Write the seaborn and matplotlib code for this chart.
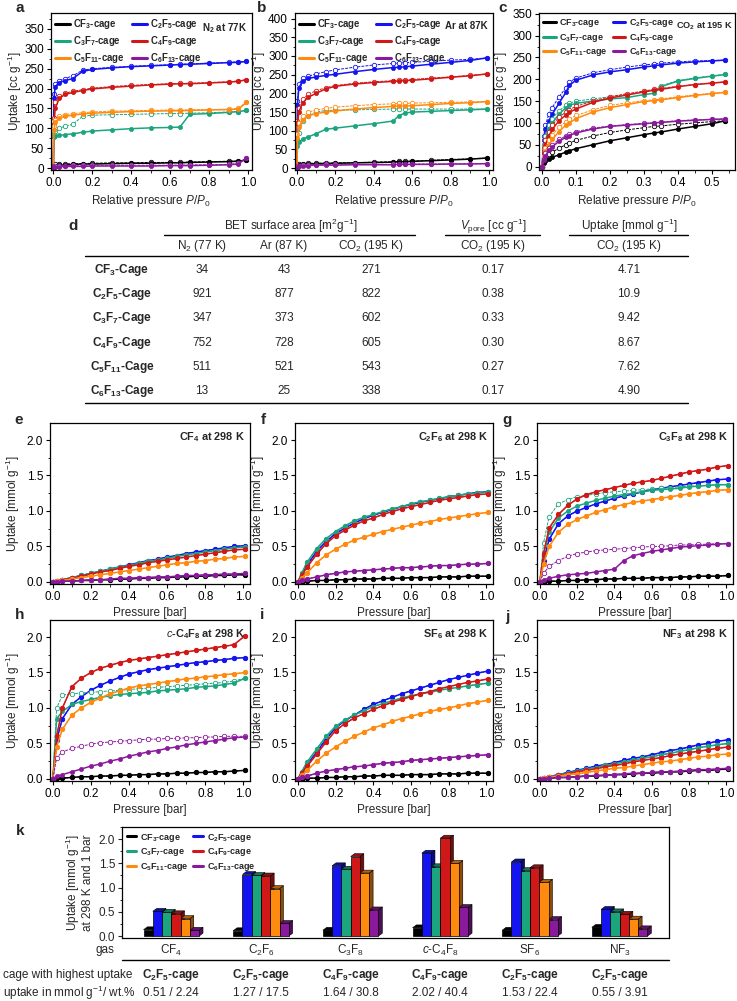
import numpy as np
import pandas as pd
import matplotlib
matplotlib.use('Agg')
import matplotlib.pyplot as plt
import seaborn as sns
from matplotlib.ticker import AutoMinorLocator, MultipleLocator, FormatStrFormatter
from matplotlib.patches import Polygon
from matplotlib.lines import Line2D
from matplotlib.colors import to_rgb
import matplotlib.transforms as mtransforms

# ---------------- data ----------------
cages = ['CF3', 'C2F5', 'C3F7', 'C4F9', 'C5F11', 'C6F13']
cage_labels = [r'$\mathbf{CF_3}$-cage', r'$\mathbf{C_2F_5}$-cage', r'$\mathbf{C_3F_7}$-cage',
               r'$\mathbf{C_4F_9}$-cage', r'$\mathbf{C_5F_{11}}$-cage', r'$\mathbf{C_6F_{13}}$-cage']
cage_colors = ['#000000', '#1414F0', '#1BA57E', '#D01818', '#FF8A10', '#8A1A9C']

# a: N2 at 77 K
p_a = [0, 0.003, 0.01, 0.03, 0.06, 0.1, 0.15, 0.2, 0.3, 0.4, 0.5, 0.6, 0.65, 0.7, 0.8, 0.9, 0.95, 0.99]
a_ads = {
    'CF3':   [0, 4, 6, 7, 8, 9, 10, 10, 11, 12, 12, 13, 13, 14, 15, 16, 17, 20],
    'C2F5':  [0, 175, 205, 215, 220, 225, 243, 248, 252, 255, 257, 259, 260, 261, 263, 265, 266, 268],
    'C3F7':  [0, 78, 80, 82, 84, 86, 90, 93, 96, 99, 101, 102, 103, 135, 137, 140, 142, 145],
    'C4F9':  [0, 110, 150, 175, 185, 190, 195, 199, 203, 206, 209, 211, 212, 212, 214, 216, 218, 222],
    'C5F11': [0, 95, 115, 125, 130, 133, 136, 138, 140, 142, 143, 144, 144, 145, 146, 147, 148, 165],
    'C6F13': [0, 2, 3, 3, 4, 4, 4, 5, 5, 5, 5, 6, 6, 6, 7, 8, 10, 25],
}
a_des = {
    'CF3':   [0, 7, 9, 10, 10, 11, 11, 12, 13, 13, 14, 14, 14, 15, 16, 17, 18, 20],
    'C2F5':  [0, 185, 212, 220, 225, 232, 246, 250, 253, 256, 258, 260, 261, 262, 264, 266, 267, 268],
    'C3F7':  [0, 85, 92, 100, 105, 110, 130, 133, 134, 135, 136, 137, 137, 138, 139, 141, 142, 145],
    'C4F9':  [0, 125, 165, 180, 188, 193, 197, 201, 205, 208, 210, 212, 213, 213, 215, 217, 219, 222],
    'C5F11': [0, 105, 122, 130, 134, 137, 139, 141, 143, 144, 145, 146, 146, 146, 147, 148, 150, 165],
    'C6F13': [0, 5, 6, 6, 6, 7, 7, 7, 7, 7, 7, 7, 7, 8, 8, 9, 12, 25],
}

# b: Ar at 87 K
p_b = [0, 0.003, 0.01, 0.03, 0.06, 0.1, 0.15, 0.2, 0.3, 0.4, 0.5, 0.53, 0.56, 0.6, 0.7, 0.8, 0.9, 0.99]
b_ads = {
    'CF3':   [0, 5, 8, 10, 11, 12, 12, 13, 14, 15, 16, 17, 17, 18, 20, 22, 24, 27],
    'C2F5':  [0, 170, 215, 233, 240, 244, 248, 251, 258, 264, 269, 270, 271, 273, 278, 283, 288, 295],
    'C3F7':  [0, 60, 70, 78, 84, 92, 104, 107, 113, 119, 126, 140, 147, 150, 152, 154, 156, 158],
    'C4F9':  [0, 120, 150, 175, 190, 200, 212, 219, 225, 229, 232, 233, 234, 235, 239, 243, 247, 252],
    'C5F11': [0, 80, 110, 130, 140, 146, 150, 153, 158, 162, 165, 166, 166, 167, 170, 173, 175, 178],
    'C6F13': [0, 3, 5, 6, 7, 8, 8, 8, 9, 9, 9, 10, 10, 10, 10, 11, 11, 12],
}
b_des = {
    'CF3':   [0, 8, 11, 12, 13, 13, 14, 14, 15, 16, 17, 18, 18, 19, 21, 23, 25, 27],
    'C2F5':  [0, 180, 225, 240, 246, 252, 258, 263, 270, 276, 280, 281, 282, 283, 286, 289, 291, 295],
    'C3F7':  [0, 75, 95, 125, 140, 150, 154, 155, 156, 157, 158, 158, 158, 158, 158, 158, 158, 158],
    'C4F9':  [0, 125, 160, 185, 198, 207, 215, 221, 227, 231, 234, 235, 236, 237, 241, 244, 248, 252],
    'C5F11': [0, 90, 120, 140, 150, 155, 160, 163, 167, 170, 172, 173, 173, 174, 175, 176, 177, 178],
    'C6F13': [0, 5, 7, 8, 9, 9, 10, 10, 10, 10, 10, 11, 11, 11, 11, 11, 12, 12],
}

# c: CO2 at 195 K
p_c = [0, 0.005, 0.01, 0.02, 0.03, 0.05, 0.07, 0.08, 0.1, 0.15, 0.2, 0.25, 0.3, 0.33, 0.35, 0.4, 0.45, 0.5, 0.54]
c_ads = {
    'CF3':   [0, 8, 12, 17, 21, 27, 33, 36, 41, 50, 59, 66, 73, 77, 79, 86, 92, 98, 105],
    'C2F5':  [0, 60, 85, 105, 120, 145, 170, 186, 198, 210, 217, 222, 228, 231, 233, 237, 240, 242, 244],
    'C3F7':  [0, 40, 60, 85, 100, 120, 135, 140, 145, 150, 155, 158, 165, 168, 183, 196, 202, 207, 211],
    'C4F9':  [0, 30, 50, 70, 85, 105, 118, 124, 132, 147, 157, 164, 171, 175, 177, 183, 188, 191, 194],
    'C5F11': [0, 20, 35, 50, 62, 80, 95, 100, 110, 125, 135, 142, 149, 151, 153, 158, 163, 167, 170],
    'C6F13': [0, 15, 25, 37, 45, 58, 67, 71, 77, 86, 92, 95, 98, 100, 101, 104, 106, 108, 109],
}
c_des = {
    'CF3':   [0, 12, 20, 28, 33, 42, 50, 54, 60, 70, 78, 84, 89, 92, 93, 97, 100, 103, 105],
    'C2F5':  [0, 70, 95, 120, 135, 160, 180, 193, 203, 215, 222, 228, 233, 235, 237, 240, 242, 243, 244],
    'C3F7':  [0, 50, 70, 95, 110, 128, 140, 145, 150, 155, 160, 165, 172, 176, 185, 197, 203, 208, 211],
    'C4F9':  [0, 40, 60, 80, 95, 113, 125, 130, 138, 150, 160, 167, 173, 177, 179, 184, 188, 192, 194],
    'C5F11': [0, 25, 42, 60, 72, 90, 103, 108, 117, 130, 140, 146, 151, 153, 155, 160, 164, 168, 170],
    'C6F13': [0, 18, 30, 42, 50, 62, 70, 74, 80, 88, 93, 96, 99, 100, 102, 105, 107, 108, 109],
}

# e-j: fluorinated gases at 298 K
p_rt = [0.0, 0.02, 0.05, 0.1, 0.15, 0.2, 0.25, 0.3, 0.35, 0.4, 0.45, 0.5, 0.55, 0.6, 0.65, 0.7,
        0.75, 0.8, 0.85, 0.9, 0.95, 1.01]
e_ads = {
    'CF3':   [0, 0, 0.01, 0.01, 0.02, 0.02, 0.03, 0.03, 0.04, 0.04, 0.05, 0.05, 0.06, 0.06, 0.07, 0.07, 0.08, 0.08, 0.09, 0.09, 0.10, 0.10],
    'C2F5':  [0, 0.01, 0.03, 0.06, 0.09, 0.12, 0.15, 0.18, 0.21, 0.24, 0.27, 0.30, 0.32, 0.35, 0.37, 0.40, 0.42, 0.44, 0.46, 0.48, 0.50, 0.51],
    'C3F7':  [0, 0.01, 0.03, 0.06, 0.09, 0.12, 0.15, 0.18, 0.21, 0.23, 0.26, 0.29, 0.31, 0.33, 0.36, 0.38, 0.40, 0.42, 0.44, 0.46, 0.48, 0.49],
    'C4F9':  [0, 0.01, 0.03, 0.05, 0.08, 0.11, 0.14, 0.16, 0.19, 0.22, 0.24, 0.27, 0.29, 0.31, 0.33, 0.35, 0.37, 0.39, 0.41, 0.43, 0.45, 0.46],
    'C5F11': [0, 0.01, 0.02, 0.04, 0.06, 0.08, 0.10, 0.12, 0.14, 0.16, 0.18, 0.20, 0.22, 0.24, 0.26, 0.27, 0.29, 0.30, 0.32, 0.33, 0.35, 0.36],
    'C6F13': [0, 0, 0.01, 0.01, 0.02, 0.03, 0.03, 0.04, 0.05, 0.05, 0.06, 0.06, 0.07, 0.07, 0.08, 0.09, 0.09, 0.10, 0.10, 0.11, 0.11, 0.12],
}
f_ads = {
    'CF3':   [0, 0, 0.01, 0.02, 0.02, 0.03, 0.03, 0.04, 0.04, 0.04, 0.05, 0.05, 0.05, 0.06, 0.06, 0.06, 0.07, 0.07, 0.07, 0.08, 0.08, 0.08],
    'C2F5':  [0, 0.10, 0.24, 0.43, 0.57, 0.68, 0.76, 0.83, 0.89, 0.94, 0.98, 1.02, 1.06, 1.09, 1.12, 1.15, 1.17, 1.20, 1.22, 1.24, 1.26, 1.27],
    'C3F7':  [0, 0.12, 0.28, 0.47, 0.61, 0.71, 0.79, 0.86, 0.91, 0.95, 0.99, 1.03, 1.06, 1.10, 1.13, 1.15, 1.18, 1.20, 1.22, 1.24, 1.25, 1.27],
    'C4F9':  [0, 0.09, 0.21, 0.39, 0.54, 0.65, 0.73, 0.80, 0.86, 0.90, 0.95, 0.99, 1.03, 1.06, 1.09, 1.12, 1.15, 1.17, 1.19, 1.21, 1.23, 1.24],
    'C5F11': [0, 0.05, 0.13, 0.27, 0.38, 0.46, 0.53, 0.59, 0.63, 0.67, 0.71, 0.74, 0.77, 0.80, 0.83, 0.85, 0.88, 0.90, 0.92, 0.94, 0.96, 0.98],
    'C6F13': [0, 0.02, 0.04, 0.07, 0.10, 0.12, 0.14, 0.15, 0.16, 0.17, 0.18, 0.19, 0.20, 0.20, 0.21, 0.22, 0.23, 0.23, 0.24, 0.25, 0.25, 0.26],
}
g_ads = {
    'CF3':   [0, 0, 0.01, 0.01, 0.02, 0.02, 0.03, 0.03, 0.04, 0.04, 0.05, 0.05, 0.05, 0.06, 0.06, 0.06, 0.07, 0.07, 0.08, 0.08, 0.08, 0.09],
    'C2F5':  [0, 0.30, 0.60, 0.82, 0.93, 1.00, 1.05, 1.10, 1.14, 1.18, 1.21, 1.24, 1.27, 1.30, 1.32, 1.34, 1.36, 1.38, 1.40, 1.42, 1.44, 1.45],
    'C3F7':  [0, 0.38, 0.70, 0.90, 1.00, 1.07, 1.11, 1.15, 1.18, 1.21, 1.23, 1.25, 1.27, 1.29, 1.30, 1.31, 1.32, 1.34, 1.35, 1.36, 1.37, 1.37],
    'C4F9':  [0, 0.40, 0.76, 0.95, 1.08, 1.17, 1.23, 1.27, 1.30, 1.33, 1.36, 1.39, 1.41, 1.43, 1.46, 1.49, 1.52, 1.55, 1.57, 1.59, 1.62, 1.64],
    'C5F11': [0, 0.25, 0.50, 0.70, 0.81, 0.88, 0.93, 0.98, 1.02, 1.06, 1.09, 1.12, 1.14, 1.16, 1.18, 1.20, 1.22, 1.24, 1.26, 1.27, 1.29, 1.30],
    'C6F13': [0, 0.03, 0.05, 0.08, 0.10, 0.11, 0.12, 0.14, 0.16, 0.18, 0.30, 0.37, 0.40, 0.43, 0.45, 0.47, 0.49, 0.50, 0.51, 0.52, 0.53, 0.54],
}
g_des = {
    'C3F7':  [0, 0.55, 0.92, 1.10, 1.16, 1.20, 1.22, 1.24, 1.26, 1.27, 1.28, 1.29, 1.30, 1.31, 1.32, 1.33, 1.34, 1.35, 1.35, 1.36, 1.37, 1.37],
    'C6F13': [0, 0.12, 0.22, 0.30, 0.36, 0.40, 0.42, 0.44, 0.45, 0.46, 0.47, 0.48, 0.49, 0.50, 0.50, 0.51, 0.52, 0.52, 0.53, 0.53, 0.54, 0.54],
}
h_ads = {
    'CF3':   [0, 0.01, 0.01, 0.02, 0.03, 0.03, 0.04, 0.04, 0.05, 0.05, 0.06, 0.06, 0.07, 0.07, 0.08, 0.08, 0.09, 0.09, 0.10, 0.10, 0.11, 0.12],
    'C2F5':  [0, 0.55, 0.85, 1.05, 1.16, 1.25, 1.32, 1.38, 1.43, 1.48, 1.51, 1.54, 1.56, 1.58, 1.60, 1.62, 1.64, 1.65, 1.67, 1.68, 1.70, 1.71],
    'C3F7':  [0, 0.85, 0.95, 1.05, 1.09, 1.12, 1.15, 1.17, 1.19, 1.20, 1.21, 1.22, 1.24, 1.25, 1.26, 1.27, 1.29, 1.30, 1.31, 1.33, 1.35, 1.42],
    'C4F9':  [0, 0.60, 1.00, 1.30, 1.42, 1.50, 1.56, 1.60, 1.64, 1.67, 1.69, 1.71, 1.73, 1.75, 1.77, 1.79, 1.81, 1.83, 1.85, 1.87, 1.89, 2.02],
    'C5F11': [0, 0.45, 0.70, 0.90, 1.00, 1.08, 1.14, 1.20, 1.24, 1.28, 1.31, 1.33, 1.35, 1.37, 1.39, 1.41, 1.42, 1.44, 1.45, 1.47, 1.48, 1.50],
    'C6F13': [0, 0.04, 0.06, 0.10, 0.14, 0.18, 0.21, 0.25, 0.28, 0.32, 0.35, 0.38, 0.40, 0.43, 0.45, 0.48, 0.50, 0.52, 0.54, 0.56, 0.58, 0.59],
}
h_des = {
    'C3F7':  [0, 1.00, 1.18, 1.20, 1.21, 1.22, 1.23, 1.24, 1.25, 1.26, 1.27, 1.28, 1.29, 1.30, 1.31, 1.32, 1.33, 1.34, 1.35, 1.36, 1.38, 1.42],
    'C6F13': [0, 0.30, 0.38, 0.43, 0.46, 0.49, 0.51, 0.52, 0.53, 0.54, 0.55, 0.56, 0.56, 0.57, 0.57, 0.58, 0.58, 0.59, 0.59, 0.60, 0.60, 0.60],
}
i_ads = {
    'CF3':   [0, 0, 0.01, 0.01, 0.02, 0.02, 0.03, 0.03, 0.04, 0.04, 0.05, 0.05, 0.05, 0.06, 0.06, 0.06, 0.07, 0.07, 0.07, 0.08, 0.08, 0.08],
    'C2F5':  [0, 0.08, 0.20, 0.38, 0.56, 0.72, 0.82, 0.90, 0.98, 1.05, 1.10, 1.15, 1.20, 1.24, 1.28, 1.32, 1.36, 1.40, 1.43, 1.46, 1.49, 1.52],
    'C3F7':  [0, 0.10, 0.24, 0.42, 0.60, 0.74, 0.83, 0.90, 0.96, 1.02, 1.06, 1.10, 1.14, 1.17, 1.20, 1.22, 1.25, 1.27, 1.29, 1.31, 1.33, 1.35],
    'C4F9':  [0, 0.08, 0.18, 0.35, 0.52, 0.68, 0.78, 0.86, 0.92, 0.98, 1.03, 1.08, 1.12, 1.16, 1.20, 1.23, 1.27, 1.30, 1.33, 1.36, 1.38, 1.41],
    'C5F11': [0, 0.05, 0.12, 0.25, 0.36, 0.45, 0.53, 0.60, 0.66, 0.72, 0.76, 0.81, 0.85, 0.88, 0.92, 0.95, 0.98, 1.00, 1.03, 1.06, 1.08, 1.11],
    'C6F13': [0, 0.02, 0.04, 0.08, 0.11, 0.13, 0.15, 0.17, 0.18, 0.20, 0.22, 0.23, 0.24, 0.26, 0.27, 0.28, 0.29, 0.30, 0.31, 0.32, 0.33, 0.34],
}
j_ads = {
    'CF3':   [0, 0, 0.01, 0.02, 0.02, 0.03, 0.04, 0.04, 0.05, 0.06, 0.06, 0.07, 0.08, 0.08, 0.09, 0.10, 0.10, 0.11, 0.12, 0.12, 0.13, 0.14],
    'C2F5':  [0, 0.01, 0.03, 0.06, 0.09, 0.12, 0.15, 0.18, 0.20, 0.23, 0.26, 0.29, 0.31, 0.34, 0.37, 0.40, 0.42, 0.45, 0.48, 0.50, 0.53, 0.55],
    'C3F7':  [0, 0.01, 0.03, 0.06, 0.08, 0.11, 0.14, 0.16, 0.19, 0.21, 0.24, 0.26, 0.29, 0.31, 0.34, 0.36, 0.39, 0.41, 0.44, 0.46, 0.48, 0.50],
    'C4F9':  [0, 0.01, 0.02, 0.05, 0.07, 0.10, 0.12, 0.14, 0.17, 0.19, 0.21, 0.24, 0.26, 0.28, 0.30, 0.33, 0.35, 0.37, 0.39, 0.41, 0.43, 0.45],
    'C5F11': [0, 0.01, 0.02, 0.04, 0.06, 0.07, 0.09, 0.11, 0.13, 0.15, 0.16, 0.18, 0.20, 0.22, 0.24, 0.25, 0.27, 0.29, 0.31, 0.32, 0.34, 0.35],
    'C6F13': [0, 0, 0.01, 0.02, 0.02, 0.03, 0.04, 0.05, 0.05, 0.06, 0.07, 0.08, 0.08, 0.09, 0.10, 0.10, 0.11, 0.12, 0.13, 0.13, 0.14, 0.15],
}

# d: table
table_names = [r'$\mathbf{CF_3}$-Cage', r'$\mathbf{C_2F_5}$-Cage', r'$\mathbf{C_3F_7}$-Cage',
               r'$\mathbf{C_4F_9}$-Cage', r'$\mathbf{C_5F_{11}}$-Cage', r'$\mathbf{C_6F_{13}}$-Cage']
bet_n2 = ['34', '921', '347', '752', '511', '13']
bet_ar = ['43', '877', '373', '728', '521', '25']
bet_co2 = ['271', '822', '602', '605', '543', '338']
v_pore = ['0.17', '0.38', '0.33', '0.30', '0.27', '0.17']
co2_uptake = ['4.71', '10.9', '9.42', '8.67', '7.62', '4.90']

# k: uptake at 298 K and 1 bar
gases = ['CF$_4$', 'C$_2$F$_6$', 'C$_3$F$_8$', r'$\mathit{c}$-C$_4$F$_8$', 'SF$_6$', 'NF$_3$']
bar_cf3 = [0.13, 0.11, 0.12, 0.17, 0.12, 0.18]
bar_c2f5 = [0.51, 1.27, 1.45, 1.71, 1.53, 0.55]
bar_c3f7 = [0.49, 1.25, 1.38, 1.43, 1.35, 0.50]
bar_c4f9 = [0.46, 1.24, 1.64, 2.02, 1.41, 0.45]
bar_c5f11 = [0.36, 0.98, 1.30, 1.50, 1.11, 0.35]
bar_c6f13 = [0.12, 0.26, 0.54, 0.59, 0.34, 0.15]
best_cage = [r'$\mathbf{C_2F_5}$-cage', r'$\mathbf{C_2F_5}$-cage', r'$\mathbf{C_4F_9}$-cage',
             r'$\mathbf{C_4F_9}$-cage', r'$\mathbf{C_2F_5}$-cage', r'$\mathbf{C_2F_5}$-cage']
best_uptake = ['0.51 / 2.24', '1.27 / 17.5', '1.64 / 30.8', '2.02 / 40.4', '1.53 / 22.4', '0.55 / 3.91']

# ---------------- style ----------------
sns.set_theme(style='ticks')
plt.rcParams['font.family'] = ['Liberation Sans', 'DejaVu Sans']
plt.rcParams['mathtext.fontset'] = 'custom'
plt.rcParams['mathtext.rm'] = 'Liberation Sans'
plt.rcParams['mathtext.it'] = 'Liberation Sans:italic'
plt.rcParams['mathtext.bf'] = 'Liberation Sans:bold'
plt.rcParams['axes.linewidth'] = 0.9
plt.rcParams['axes.edgecolor'] = 'black'

W, H = 737, 1001
fig = plt.figure(figsize=(W / 100, H / 100), dpi=100)
fig.patch.set_facecolor('white')
narrow = ['Liberation Sans Narrow', 'Liberation Sans']


def px_axes(left, top, right, bottom):
    return fig.add_axes([left / W, 1 - bottom / H, (right - left) / W, (bottom - top) / H])


def ftext(x, y, s, **kw):
    return fig.text(x / W, 1 - y / H, s, **kw)


def fline(x0, x1, y, lw=1.0):
    fig.add_artist(Line2D([x0 / W, x1 / W], [1 - y / H, 1 - y / H], transform=fig.transFigure,
                          color='black', lw=lw))


def style_axes(ax, box, xlim, ylim, xstep, ystep, xlabel, ylabel, yfmt, ylab_x):
    ax.set_xlim(*xlim)
    ax.set_ylim(*ylim)
    ax.xaxis.set_major_locator(MultipleLocator(xstep))
    ax.yaxis.set_major_locator(MultipleLocator(ystep))
    ax.xaxis.set_minor_locator(AutoMinorLocator(2))
    ax.yaxis.set_minor_locator(AutoMinorLocator(2))
    ax.xaxis.set_major_formatter(FormatStrFormatter('%.1f'))
    ax.yaxis.set_major_formatter(FormatStrFormatter(yfmt))
    ax.tick_params(which='major', direction='out', length=3, width=0.8, labelsize=8.5, pad=2,
                   colors='black')
    ax.tick_params(which='minor', direction='out', length=1.8, width=0.7)
    for s in ax.spines.values():
        s.set_visible(True)
        s.set_linewidth(0.9)
        s.set_color('black')
    ax.set_xlabel(xlabel, fontsize=8.5, labelpad=3)
    ax.set_ylabel(ylabel, fontsize=8.5)
    # y label right edge just left of the tick labels
    ax.yaxis.set_label_coords((ylab_x + 2 - box[0]) / (box[2] - box[0]), 0.5)


def draw_iso(ax, p, ads, des=None):
    for cage, col in zip(cages, cage_colors):
        if des is not None and cage in des:
            dvals = des[cage]
        else:
            dvals = ads[cage]
        sns.lineplot(x=p, y=dvals, ax=ax, color=col, marker='o', markersize=3.2,
                     markerfacecolor='white', markeredgecolor=col, markeredgewidth=0.6,
                     linewidth=0.7, linestyle=(0, (3, 1.2)), errorbar=None)
        sns.lineplot(x=p, y=ads[cage], ax=ax, color=col, marker='o', markersize=3.0,
                     markerfacecolor=col, markeredgecolor=col, markeredgewidth=0.5,
                     linewidth=1.1, errorbar=None)


def add_legend(ax, fs=6.9, hl=1.5, cs=0.8):
    order = [0, 2, 4, 1, 3, 5]
    handles = [Line2D([], [], color=cage_colors[i], lw=2.2) for i in order]
    labels = [cage_labels[i] for i in order]
    ax.legend(handles, labels, ncol=2, loc='upper left', frameon=False,
              prop={'size': fs, 'weight': 'bold'}, handlelength=hl, handletextpad=0.35,
              columnspacing=cs, labelspacing=0.3, borderaxespad=0.3, borderpad=0.15)


# ---------------- a, b, c ----------------
box_a = (51, 13, 252, 170)
ax_a = px_axes(*box_a)
draw_iso(ax_a, p_a, a_ads, a_des)
style_axes(ax_a, box_a, (-0.012, 1.02), (-5, 390), 0.2, 50, r'Relative pressure $P/P_0$',
           r'Uptake [cc g$^{-1}$]', '%d', 22)
add_legend(ax_a)
ax_a.text(0.975, 0.95, r'N$_\mathbf{2}$ at 77K', transform=ax_a.transAxes, ha='right', va='top',
          fontsize=7.0, fontweight='bold')

box_b = (295, 13, 493, 170)
ax_b = px_axes(*box_b)
draw_iso(ax_b, p_b, b_ads, b_des)
style_axes(ax_b, box_b, (-0.01, 1.02), (-5, 415), 0.2, 50, r'Relative pressure $P/P_0$',
           r'Uptake [cc g$^{-1}$]', '%d', 266)
add_legend(ax_b)
ax_b.text(0.975, 0.95, 'Ar at 87K', transform=ax_b.transAxes, ha='right', va='top',
          fontsize=7.0, fontweight='bold')

box_c = (539, 13, 735, 170)
ax_c = px_axes(*box_c)
draw_iso(ax_c, p_c, c_ads, c_des)
style_axes(ax_c, box_c, (-0.009, 0.568), (-8, 352), 0.1, 50, r'Relative pressure $P/P_0$',
           r'Uptake [cc g$^{-1}$]', '%d', 508)
add_legend(ax_c, fs=6.5, hl=1.4, cs=0.6)
ax_c.text(0.99, 0.95, r'CO$_\mathbf{2}$ at 195 K', transform=ax_c.transAxes, ha='right', va='top',
          fontsize=6.6, fontweight='bold')

# ---------------- d: table ----------------
tfs = 8.5
ftext(291, 226, r'BET surface area [m$^2$g$^{-1}$]', ha='center', va='center', fontsize=tfs, family=narrow)
ftext(493, 226, r'$V_{\rm pore}$ [cc g$^{-1}$]', ha='center', va='center', fontsize=tfs, family=narrow)
ftext(629, 226, r'Uptake [mmol g$^{-1}$]', ha='center', va='center', fontsize=tfs, family=narrow)
fline(164, 415, 235)
fline(445, 540, 235)
fline(569, 688, 235)
for x, s in zip([202, 284, 371, 493, 629],
                ['N$_2$ (77 K)', 'Ar (87 K)', 'CO$_2$ (195 K)', 'CO$_2$ (195 K)', 'CO$_2$ (195 K)']):
    ftext(x, 246, s, ha='center', va='center', fontsize=tfs, family=narrow)
fline(85, 688, 256)
for r in range(len(table_names)):
    y = 270 + r * 24.2
    ftext(122, y, table_names[r], ha='center', va='center', fontsize=tfs, fontweight='bold', family=narrow)
    for x, col in zip([202, 284, 371, 493, 629], [bet_n2, bet_ar, bet_co2, v_pore, co2_uptake]):
        ftext(x, y, col[r], ha='center', va='center', fontsize=tfs, family=narrow)
fline(85, 688, 403)

# ---------------- e-j ----------------
panels = [
    ((50, 423, 250, 584), e_ads, None, r'CF$_\mathbf{4}$ at 298 K', 20),
    ((295, 423, 493, 584), f_ads, None, r'C$_\mathbf{2}$F$_\mathbf{6}$ at 298 K', 265),
    ((537, 423, 733, 584), g_ads, g_des, r'C$_\mathbf{3}$F$_\mathbf{8}$ at 298 K', 507),
    ((50, 620, 250, 781), h_ads, h_des, r'$\mathbf{\mathit{c}}$-C$_\mathbf{4}$F$_\mathbf{8}$ at 298 K', 20),
    ((295, 620, 493, 781), i_ads, None, r'SF$_\mathbf{6}$ at 298 K', 265),
    ((537, 620, 733, 781), j_ads, None, r'NF$_\mathbf{3}$ at 298 K', 507),
]
for box, ads, des, title, ylx in panels:
    ax = px_axes(*box)
    draw_iso(ax, p_rt, ads, des)
    style_axes(ax, box, (-0.015, 1.035), (-0.03, 2.24), 0.2, 0.5, 'Pressure [bar]',
               r'Uptake [mmol g$^{-1}$]', '%.1f', ylx)
    ax.text(0.975, 0.955, title, transform=ax.transAxes, ha='right', va='top',
            fontsize=7.8, fontweight='bold')

# ---------------- k: bars ----------------
ax_k = px_axes(122, 827, 669, 938)
bar_df = pd.DataFrame({
    'gas': gases * 6,
    'cage': sum([[c] * 6 for c in cages], []),
    'uptake': bar_cf3 + bar_c2f5 + bar_c3f7 + bar_c4f9 + bar_c5f11 + bar_c6f13,
})
sns.barplot(data=bar_df, x='gas', y='uptake', hue='cage', hue_order=cages, order=gases,
            palette=cage_colors, width=0.62, gap=0, edgecolor='black', linewidth=0.5,
            legend=False, ax=ax_k, saturation=1)
bars = list(ax_k.patches)
for b in bars:
    b.set_zorder(3)
    x0, w, h = b.get_x(), b.get_width(), b.get_height()
    if h <= 0:
        continue
    fc = np.array(to_rgb(b.get_facecolor()))
    dx, dy = w * 0.42, 0.06
    side = Polygon([(x0 + w, 0), (x0 + w + dx, dy), (x0 + w + dx, h + dy), (x0 + w, h)],
                   closed=True, facecolor=fc * 0.55, edgecolor='black', lw=0.4, zorder=2.5)
    top = Polygon([(x0, h), (x0 + dx, h + dy), (x0 + w + dx, h + dy), (x0 + w, h)],
                  closed=True, facecolor=fc * 0.7, edgecolor='black', lw=0.4, zorder=2.5)
    ax_k.add_patch(side)
    ax_k.add_patch(top)
ax_k.set_xlim(-0.55, 5.55)
ax_k.set_ylim(-0.04, 2.25)
ax_k.yaxis.set_major_locator(MultipleLocator(0.5))
ax_k.yaxis.set_minor_locator(AutoMinorLocator(2))
ax_k.yaxis.set_major_formatter(FormatStrFormatter('%.1f'))
ax_k.tick_params(axis='y', which='major', direction='out', length=3, width=0.8, labelsize=8.5, pad=2)
ax_k.tick_params(axis='y', which='minor', direction='out', length=1.8, width=0.7)
ax_k.tick_params(axis='x', which='both', length=0, labelbottom=False)
ax_k.set_xlabel('')
ax_k.set_ylabel('Uptake [mmol g$^{-1}$]\nat 298 K and 1 bar', fontsize=8.5, labelpad=3, linespacing=1.0)
for s in ax_k.spines.values():
    s.set_visible(True)
    s.set_linewidth(0.9)
    s.set_color('black')
order_k = [0, 2, 4, 1, 3, 5]
ax_k.legend([Line2D([], [], color=cage_colors[i], lw=2.2) for i in order_k],
            [cage_labels[i] for i in order_k], ncol=2, loc='upper left', frameon=False,
            prop={'size': 6.5, 'weight': 'bold'}, handlelength=1.1, handletextpad=0.35,
            columnspacing=0.6, labelspacing=0.3, borderaxespad=0.3, borderpad=0.2)

trans_k = mtransforms.blended_transform_factory(ax_k.transData, fig.transFigure)
ftext(114, 950, 'gas', ha='right', va='center', fontsize=8.5, family=narrow)
for gi, g in enumerate(gases):
    fig.text(gi, 1 - 950 / H, g, transform=trans_k, ha='center', va='center', fontsize=8.5, family=narrow)
    fig.text(gi, 1 - 975 / H, best_cage[gi], transform=trans_k, ha='center', va='center',
             fontsize=8.5, fontweight='bold', family=narrow)
    fig.text(gi, 1 - 993 / H, best_uptake[gi], transform=trans_k, ha='center', va='center',
             fontsize=8.5, family=narrow)
fline(122, 669, 960)
ftext(3, 975, 'cage with highest uptake', ha='left', va='center', fontsize=8.5, family=narrow)
ftext(3, 993, r'uptake in mmol g$^{-1}$/ wt.%', ha='left', va='center', fontsize=8.5, family=narrow)

# panel letters
for lab, x, y in [('a', 20, 8), ('b', 262, 8), ('c', 503, 8), ('d', 73, 226), ('e', 19, 420),
                  ('f', 263, 420), ('g', 507, 420), ('h', 20, 615), ('i', 262, 615),
                  ('j', 507, 617), ('k', 20, 831)]:
    ftext(x, y, lab, ha='center', va='center', fontsize=11, fontweight='bold')

fig.savefig('out.png', dpi=100)
